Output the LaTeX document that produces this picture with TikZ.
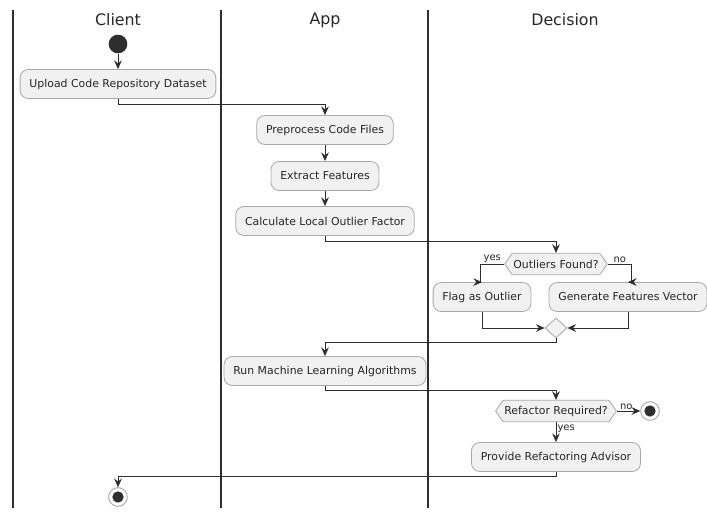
\documentclass[tikz,border=0pt]{standalone}
\usepackage{fontspec}
\setmainfont{DejaVu Sans}
\usetikzlibrary{positioning,arrows.meta,shapes.geometric,shapes.symbols}
\definecolor{boxfill}{HTML}{F1F1F1}
\definecolor{boxline}{HTML}{A9A9A9}
\definecolor{inkline}{HTML}{2E2E2E}
\tikzset{
  flowarrow/.style={-{Stealth[length=2.6mm, width=2.3mm, inset=0.9mm]}, inkline, line width=0.6pt},
  stepbox/.style={draw=boxline, fill=boxfill, rounded corners=7pt, line width=0.7pt, minimum height=0.87cm, inner xsep=0.28cm, text=black!85, font=\fontsize{9.3}{11}\selectfont},
  decision/.style={signal, signal to=east and west, signal pointer angle=110, draw=boxline, fill=boxfill, line width=0.7pt, minimum height=0.64cm, inner xsep=1pt, inner ysep=0pt, text=black!85, font=\fontsize{9.3}{11}\selectfont},
  mergebox/.style={diamond, draw=boxline, fill=boxfill, line width=0.7pt, minimum width=0.66cm, minimum height=0.6cm, inner sep=0pt},
  startnode/.style={circle, fill=inkline, minimum size=0.56cm, inner sep=0pt},
  endnode/.style={circle, draw=boxline, line width=0.8pt, fill=white, minimum size=0.56cm, inner sep=0pt,
    path picture={\fill[inkline] (path picture bounding box.center) circle (0.17cm);}},
  lanehead/.style={font=\fontsize{13.5}{15}\selectfont, text=black!85},
  lanerule/.style={inkline, line width=1.4pt},
  relabel/.style={font=\fontsize{8.5}{10}\selectfont, text=black!85, inner sep=1pt}
}
\begin{document}
\begin{tikzpicture}[x=0.03cm, y=-0.03cm]
  \useasboundingbox (0,0) rectangle (707,512);
  % swimlanes
  \draw[lanerule] (13,10) -- (13,508);
  \draw[lanerule] (221,10) -- (221,508);
  \draw[lanerule] (428,10) -- (428,508);
  \node[lanehead] (hclient) at (118,20) {Client};
  \node[lanehead] (happ) at (325,20) {App};
  \node[lanehead] (hdec) at (565,20) {Decision};

  \node[startnode] (start) at (118,44) {};
  \node[stepbox] (upload) at (118,84) {Upload Code Repository Dataset};
  \node[stepbox] (prep) at (325,130) {Preprocess Code Files};
  \node[stepbox] (extract) at (325,176) {Extract Features};
  \node[stepbox] (lof) at (325,221) {Calculate Local Outlier Factor};
  \node[decision] (outl) at (556,264) {Outliers Found?};
  \node[stepbox] (flag) at (482,297) {Flag as Outlier};
  \node[stepbox] (genvec) at (628,297) {Generate Features Vector};
  \node[mergebox] (merge) at (556,328) {};
  \node[stepbox] (run) at (325,371) {Run Machine Learning Algorithms};
  \node[decision] (refac) at (556,411) {Refactor Required?};
  \node[endnode] (stop) at (650,411) {};
  \node[stepbox] (advisor) at (556,457) {Provide Refactoring Advisor};
  \node[endnode] (fin) at (118,497) {};

  \draw[flowarrow] (start) -- (upload);
  \draw[flowarrow] (upload.south) -- ++(0,5) -| (prep.north);
  \draw[flowarrow] (prep) -- (extract);
  \draw[flowarrow] (extract) -- (lof);
  \draw[flowarrow] (lof.south) -- ++(0,5) -| (outl.north);
  \draw[flowarrow] (outl.west) -- node[relabel, above]{yes} ++(-24,0) |- (flag.north);
  \draw[flowarrow] (outl.east) -- node[relabel, above]{no} ++(24,0) |- (genvec.north);
  \draw[flowarrow] (flag.south) |- (merge.west);
  \draw[flowarrow] (genvec.south) |- (merge.east);
  \draw[flowarrow] (merge.south) -- ++(0,4) -| (run.north);
  \draw[flowarrow] (run.south) -- ++(0,4) -| (refac.north);
  \draw[flowarrow] (refac.east) -- node[relabel, above, pos=0.4]{no} (stop.west);
  \draw[flowarrow] (refac.south) -- node[relabel, right, pos=0.35]{yes} (advisor.north);
  \draw[flowarrow] (advisor.south) -- ++(0,4) -| (fin.north);
\end{tikzpicture}
\end{document}
